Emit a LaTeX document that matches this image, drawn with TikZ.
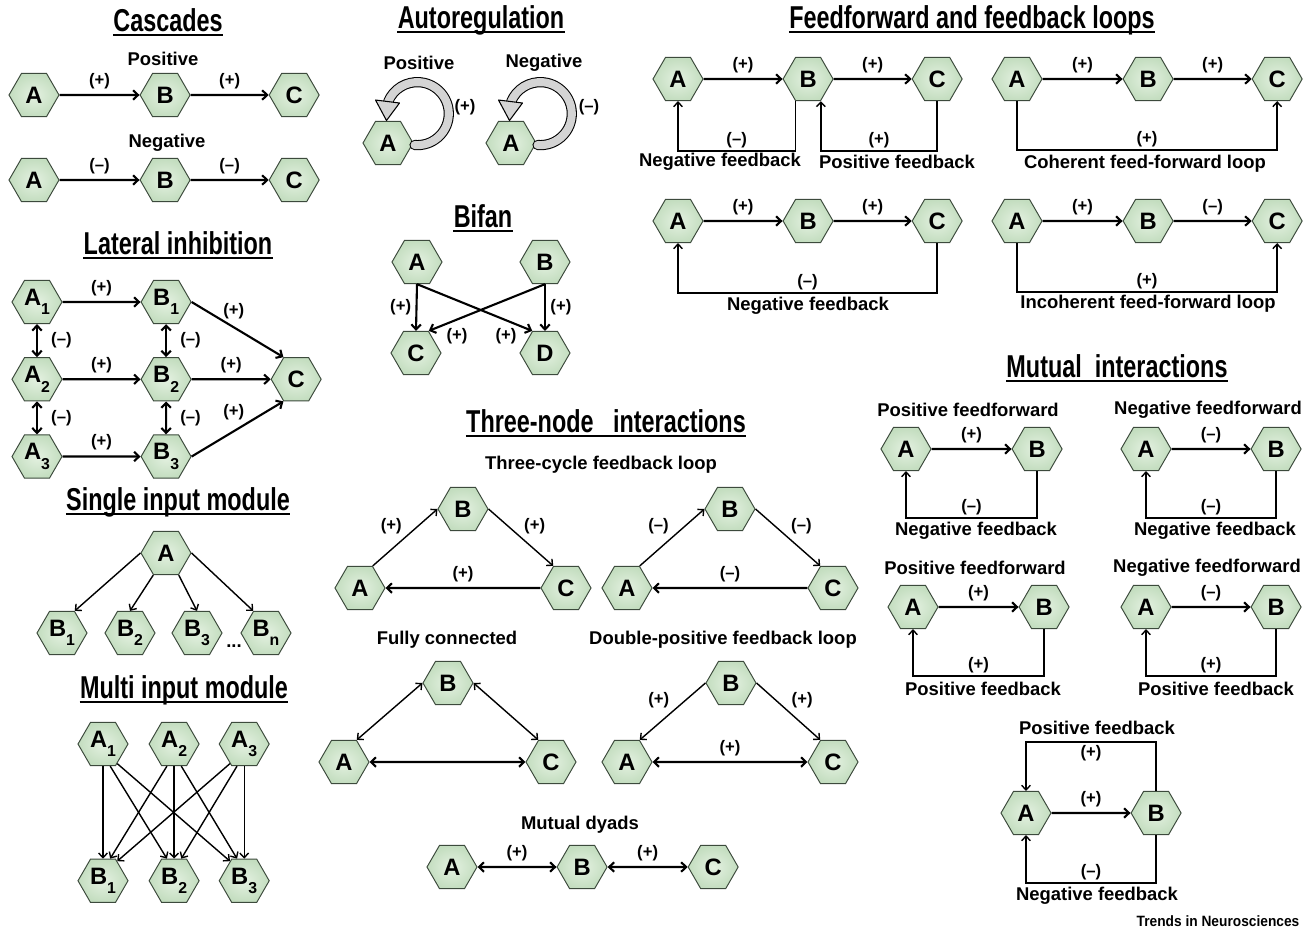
\documentclass[tikz,border=0pt]{standalone}
\usepackage{fontspec}
\setmainfont{Liberation Sans}
\usepackage{graphicx}
\usetikzlibrary{shapes.geometric,arrows.meta,positioning,calc}

\definecolor{hexcore}{HTML}{E4F1E1}
\definecolor{hexrim}{HTML}{C3DDBF}
\definecolor{hexline}{HTML}{3C4A3C}
\definecolor{loopgray}{HTML}{D4D4D4}

\tikzset{
  hex/.style={regular polygon, regular polygon sides=6, minimum size=1cm,
    inner sep=0pt, draw=hexline, line width=0.55pt,
    inner color=hexcore, outer color=hexrim,
    font=\fontsize{13.5}{14}\selectfont\bfseries},
  lab/.style={font=\fontsize{10.5}{12}\selectfont\bfseries, inner sep=1pt},
  sgn/.style={font=\fontsize{9.5}{11}\selectfont\bfseries, inner sep=1.5pt},
  heading/.style={font=\fontsize{18}{18}\selectfont\bfseries, inner sep=0pt},
  uline/.style={line width=1.1pt},
  act/.style={-{Straight Barb[length=2.8pt,width=5.4pt]}, line width=1.2pt},
  slim/.style={-{Straight Barb[length=2.6pt,width=5pt]}, line width=0.8pt},
  dual/.style={{Straight Barb[length=2.8pt,width=5.4pt]}-{Straight Barb[length=2.8pt,width=5.4pt]}, line width=1.2pt},
  dualslim/.style={{Straight Barb[length=2.6pt,width=5pt]}-{Straight Barb[length=2.6pt,width=5pt]}, line width=0.8pt},
  selfloop/.style={double=loopgray, double distance=4.6pt, line width=0.6pt, line cap=round},
}

\newcommand{\motiftitle}[3]{%
  \node[heading] (#1) at (#2) {\scalebox{0.74}[1]{#3}};
  \draw[uline] ([yshift=-2.2pt]#1.base west) -- ([yshift=-2.2pt]#1.base east);}
\newcommand{\idx}[1]{\raisebox{-0.75ex}{\fontsize{9}{9}\selectfont #1}}

\begin{document}
\begin{tikzpicture}[x=0.02cm, y=-0.02cm]
\useasboundingbox (0,0) rectangle (1316,931);

% Cascades
\motiftitle{tCasc}{168,20}{Cascades}
\node[lab] (cPos) at (163,59) {Positive};
\node[hex] (ca1) at (34,95) {A};
\node[hex, right=1.6cm of ca1] (cb1) {B};
\node[hex, right=1.56cm of cb1] (cc1) {C};
\draw[act] (ca1) -- node[sgn, above=1.5pt] {(+)} (cb1);
\draw[act] (cb1) -- node[sgn, above=1.5pt] {(+)} (cc1);
\node[lab] (cNeg) at (167,143) {Negative};
\node[hex] (ca2) at (34,180) {A};
\node[hex, right=1.6cm of ca2] (cb2) {B};
\node[hex, right=1.56cm of cb2] (cc2) {C};
\draw[act] (ca2) -- node[sgn, above=1.5pt] {(–)} (cb2);
\draw[act] (cb2) -- node[sgn, above=1.5pt] {(–)} (cc2);

% Autoregulation
\motiftitle{tAuto}{481,20}{Autoregulation}
\node[lab] (arPos) at (419,63) {Positive};
\node[lab] (arNeg) at (544,63) {Negative};
\node[hex] (arA) at (388,143) {A};
\node[hex] (arB) at (511,143) {A};
\draw[selfloop] ($(arA.east)+(1,2)$) arc[start angle=95, end angle=-158, radius=31.5];
\draw[fill=loopgray, line width=0.6pt, line join=round] ($(arA)+(-12.5,-43)$) -- ($(arA)+(11.5,-40)$) -- ($(arA)+(-1.5,-22.5)$) -- cycle;
\node[sgn] (arPosSgn) at (465,107) {(+)};
\draw[selfloop] ($(arB.east)+(1,2)$) arc[start angle=95, end angle=-158, radius=31.5];
\draw[fill=loopgray, line width=0.6pt, line join=round] ($(arB)+(-12.5,-43)$) -- ($(arB)+(11.5,-40)$) -- ($(arB)+(-1.5,-22.5)$) -- cycle;
\node[sgn] (arNegSgn) at (589,107) {(–)};

% Bifan
\motiftitle{tBifan}{483,216}{Bifan}
\node[hex] (bfa) at (417,262) {A};
\node[hex] (bfb) at (545,262) {B};
\node[hex] (bfc) at (416,353) {C};
\node[hex] (bfd) at (545,353) {D};
\draw[act] (bfa.south) -- node[sgn, left=1pt] {(+)} (bfc.north);
\draw[act] (bfb.south) -- node[sgn, right=1pt] {(+)} (bfd.north);
\draw[act] (bfa.south) -- (bfd.120);
\draw[act] (bfb.south) -- (bfc.60);
\node[sgn] (bfSgnC) at (457,336) {(+)};
\node[sgn] (bfSgnD) at (506,336) {(+)};

% Lateral inhibition
\motiftitle{tLat}{178,243}{Lateral inhibition}
\node[hex] (la1) at (37,302) {A\idx{1}};
\node[hex, below=0.66cm of la1] (la2) {A\idx{2}};
\node[hex, below=0.66cm of la2] (la3) {A\idx{3}};
\node[hex, right=1.56cm of la1] (lb1) {B\idx{1}};
\node[hex, right=1.56cm of la2] (lb2) {B\idx{2}};
\node[hex, right=1.56cm of la3] (lb3) {B\idx{3}};
\node[hex, right=1.58cm of lb2] (lc) {C};
\draw[act] (la1) -- node[sgn, above=1.5pt] {(+)} (lb1);
\draw[act] (la2) -- node[sgn, above=1.5pt] {(+)} (lb2);
\draw[act] (la3) -- node[sgn, above=1.5pt] {(+)} (lb3);
\draw[act] (lb1.east) -- node[sgn, above=2.5pt, pos=0.46] {(+)} (lc.120);
\draw[act] (lb2) -- node[sgn, above=1.5pt] {(+)} (lc);
\draw[act] (lb3.east) -- node[sgn, above=4pt, pos=0.46] {(+)} (lc.240);
\draw[dual] (la1) -- node[sgn, right=6pt] {(–)} (la2);
\draw[dual] (la2) -- node[sgn, right=6pt] {(–)} (la3);
\draw[dual] (lb1) -- node[sgn, right=6pt] {(–)} (lb2);
\draw[dual] (lb2) -- node[sgn, right=6pt] {(–)} (lb3);

% Single input module
\motiftitle{tSim}{178,502}{Single input module}
\node[hex] (sa) at (166,553) {A};
\node[hex] (sb1) at (62,633) {B\idx{1}};
\node[hex] (sb2) at (130,633) {B\idx{2}};
\node[hex] (sb3) at (197,633) {B\idx{3}};
\node[hex] (sbn) at (266,633) {B\idx{n}};
\node[lab] (sdots) at (234,646) {...};
\draw[slim] (sa.west) -- (sb1.60);
\draw[slim] (sa.240) -- (sb2.north);
\draw[slim] (sa.300) -- (sb3.north);
\draw[slim] (sa.east) -- (sbn.120);

% Multi input module
\motiftitle{tMim}{184,690}{Multi input module}
\node[hex] (ma1) at (103,744) {A\idx{1}};
\node[hex, right=0.4cm of ma1] (ma2) {A\idx{2}};
\node[hex, right=0.38cm of ma2] (ma3) {A\idx{3}};
\node[hex, below=1.85cm of ma1] (mb1) {B\idx{1}};
\node[hex, below=1.85cm of ma2] (mb2) {B\idx{2}};
\node[hex, below=1.85cm of ma3] (mb3) {B\idx{3}};
\draw[slim] (ma1.south) -- (mb1.north);
\draw[slim] (ma1.288) -- (mb2.108);
\draw[slim] (ma1.306) -- (mb3.126);
\draw[slim] (ma2.252) -- (mb1.72);
\draw[slim] (ma2.south) -- (mb2.north);
\draw[slim] (ma2.288) -- (mb3.108);
\draw[slim] (ma3.234) -- (mb1.54);
\draw[slim] (ma3.252) -- (mb2.72);
\draw[slim] (ma3.south) -- (mb3.north);

% Three-node interactions
\motiftitle{tThree}{606,421}{Three-node~~ interactions}
\node[lab] (tCyc) at (601,465) {Three-cycle feedback loop};
\node[hex] (tb1) at (463,509) {B};
\node[hex] (ta1) at (360,588) {A};
\node[hex] (tc1) at (566,588) {C};
\draw[slim] (ta1.60) -- node[sgn, above left=0pt] {(+)} (tb1.west);
\draw[slim] (tb1.east) -- node[sgn, above right=0pt] {(+)} (tc1.120);
\draw[act] (tc1) -- node[sgn, above=1.5pt] {(+)} (ta1);
\node[hex] (tb2) at (730,509) {B};
\node[hex] (ta2) at (627,588) {A};
\node[hex] (tc2) at (833,588) {C};
\draw[slim] (ta2.60) -- node[sgn, above left=0pt] {(–)} (tb2.west);
\draw[slim] (tb2.east) -- node[sgn, above right=0pt] {(–)} (tc2.120);
\draw[act] (tc2) -- node[sgn, above=1.5pt] {(–)} (ta2);

\node[lab] (tFull) at (447,640) {Fully connected};
\node[hex] (fcb) at (448,683) {B};
\node[hex] (fca) at (344,762) {A};
\node[hex] (fcc) at (551,762) {C};
\draw[dualslim] (fca.60) -- (fcb.west);
\draw[dualslim] (fcb.east) -- (fcc.120);
\draw[dual] (fca) -- (fcc);

\node[lab] (tDbl) at (723,640) {Double-positive feedback loop};
\node[hex] (dpb) at (731,683) {B};
\node[hex] (dpa) at (627,762) {A};
\node[hex] (dpc) at (833,762) {C};
\draw[slim] (dpb.west) -- node[sgn, above left=0pt] {(+)} (dpa.60);
\draw[slim] (dpb.east) -- node[sgn, above right=0pt] {(+)} (dpc.120);
\draw[dual] (dpa) -- node[sgn, above=1.5pt] {(+)} (dpc);

\node[lab] (tDyad) at (580,825) {Mutual dyads};
\node[hex] (dya) at (452,867) {A};
\node[hex, right=1.58cm of dya] (dyb) {B};
\node[hex, right=1.6cm of dyb] (dyc) {C};
\draw[dual] (dya) -- node[sgn, above=1.5pt] {(+)} (dyb);
\draw[dual] (dyb) -- node[sgn, above=1.5pt] {(+)} (dyc);

% Feedforward and feedback loops
\motiftitle{tLoops}{972,20}{Feedforward and feedback loops}
\node[hex] (p1a) at (678,79) {A};
\node[hex, right=1.58cm of p1a] (p1b) {B};
\node[hex, right=1.56cm of p1b] (p1c) {C};
\draw[act] (p1a) -- node[sgn, above=1.5pt] {(+)} (p1b);
\draw[act] (p1b) -- node[sgn, above=1.5pt] {(+)} (p1c);
\draw[slim] (p1b.240) -- ++(0,50) -| node[sgn, above, pos=0.25] {(–)} (p1a.south);
\draw[slim] (p1c.south) -- ++(0,50) -| node[sgn, above, pos=0.25] {(+)} (p1b.300);
\node[lab] (p1neg) at (720,162) {Negative feedback};
\node[lab] (p1pos) at (897,162) {Positive feedback};

\node[hex] (p2a) at (1017,79) {A};
\node[hex, right=1.6cm of p2a] (p2b) {B};
\node[hex, right=1.56cm of p2b] (p2c) {C};
\draw[act] (p2a) -- node[sgn, above=1.5pt] {(+)} (p2b);
\draw[act] (p2b) -- node[sgn, above=1.5pt] {(+)} (p2c);
\draw[slim] (p2a.south) -- ++(0,49) -| node[sgn, above, pos=0.25] {(+)} (p2c.south);
\node[lab] (p2txt) at (1145,164) {Coherent feed-forward loop};

\node[hex] (p3a) at (678,221) {A};
\node[hex, right=1.58cm of p3a] (p3b) {B};
\node[hex, right=1.56cm of p3b] (p3c) {C};
\draw[act] (p3a) -- node[sgn, above=1.5pt] {(+)} (p3b);
\draw[act] (p3b) -- node[sgn, above=1.5pt] {(+)} (p3c);
\draw[slim] (p3c.south) -- ++(0,50) -| node[sgn, above, pos=0.25] {(–)} (p3a.south);
\node[lab] (p3txt) at (808,306) {Negative feedback};

\node[hex] (p4a) at (1017,221) {A};
\node[hex, right=1.6cm of p4a] (p4b) {B};
\node[hex, right=1.56cm of p4b] (p4c) {C};
\draw[act] (p4a) -- node[sgn, above=1.5pt] {(+)} (p4b);
\draw[act] (p4b) -- node[sgn, above=1.5pt] {(–)} (p4c);
\draw[slim] (p4a.south) -- ++(0,49) -| node[sgn, above, pos=0.25] {(+)} (p4c.south);
\node[lab] (p4txt) at (1148,304) {Incoherent feed-forward loop};

% Mutual interactions
\motiftitle{tMut}{1117,366}{Mutual~ interactions}
\node[lab] (m1top) at (968,410) {Positive feedforward};
\node[hex] (m1a) at (906,449) {A};
\node[hex, right=1.6cm of m1a] (m1b) {B};
\draw[act] (m1a) -- node[sgn, above=1.5pt] {(+)} (m1b);
\draw[slim] (m1b.south) -- ++(0,47) -| node[sgn, above, pos=0.25] {(–)} (m1a.south);
\node[lab] (m1bot) at (976,531) {Negative feedback};

\node[lab] (m2top) at (1208,410) {Negative feedforward};
\node[hex] (m2a) at (1146,449) {A};
\node[hex, right=1.58cm of m2a] (m2b) {B};
\draw[act] (m2a) -- node[sgn, above=1.5pt] {(–)} (m2b);
\draw[slim] (m2b.south) -- ++(0,47) -| node[sgn, above, pos=0.25] {(–)} (m2a.south);
\node[lab] (m2bot) at (1215,531) {Negative feedback};

\node[lab] (m3top) at (975,568) {Positive feedforward};
\node[hex] (m3a) at (913,607) {A};
\node[hex, right=1.6cm of m3a] (m3b) {B};
\draw[act] (m3a) -- node[sgn, above=1.5pt] {(+)} (m3b);
\draw[slim] (m3b.south) -- ++(0,47) -| node[sgn, above, pos=0.25] {(+)} (m3a.south);
\node[lab] (m3bot) at (983,689) {Positive feedback};

\node[lab] (m4top) at (1207,568) {Negative feedforward};
\node[hex] (m4a) at (1146,607) {A};
\node[hex, right=1.58cm of m4a] (m4b) {B};
\draw[act] (m4a) -- node[sgn, above=1.5pt] {(–)} (m4b);
\draw[slim] (m4b.south) -- ++(0,47) -| node[sgn, above, pos=0.25] {(+)} (m4a.south);
\node[lab] (m4bot) at (1216,689) {Positive feedback};

\node[lab] (m5top) at (1097,728) {Positive feedback};
\node[hex] (m5a) at (1026,813) {A};
\node[hex, right=1.58cm of m5a] (m5b) {B};
\draw[act] (m5a) -- node[sgn, above=1.5pt] {(+)} (m5b);
\draw[slim] (m5b.north) -- ++(0,-49) -| node[sgn, below, pos=0.25] {(+)} (m5a.north);
\draw[slim] (m5b.south) -- ++(0,48) -| node[sgn, above, pos=0.25] {(–)} (m5a.south);
\node[lab] (m5bot) at (1097,896) {Negative feedback};

\node[font=\fontsize{8.5}{9}\selectfont\bfseries, inner sep=0pt] (credit) at (1218,921) {\scalebox{0.92}[1]{Trends in Neurosciences}};
\end{tikzpicture}
\end{document}
